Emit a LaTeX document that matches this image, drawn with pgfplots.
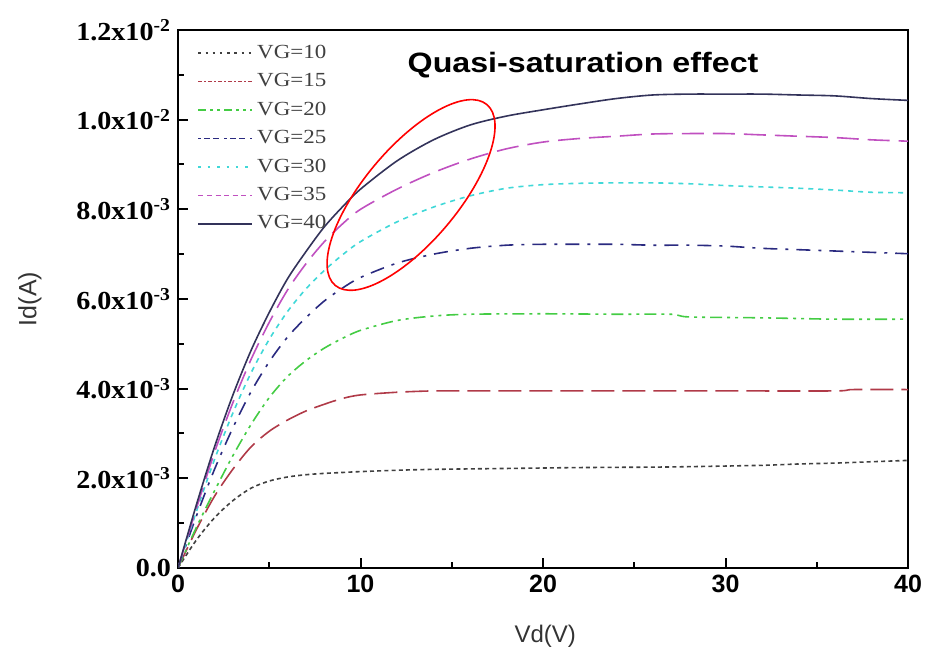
\documentclass[border=0pt]{standalone}
\usepackage{fontspec}
\setmainfont{Liberation Serif}
\setsansfont{Liberation Sans}
\newfontfamily\legf[FakeStretch=1.15]{Liberation Serif}
\newfontfamily\ytf[FakeStretch=1.08]{Liberation Serif}
\newfontfamily\ttlf[FakeStretch=1.15]{Liberation Sans}
\usepackage{pgfplots}
\pgfplotsset{compat=1.18}
\usetikzlibrary{shapes.geometric}
\definecolor{c10}{HTML}{404040}
\definecolor{c15}{HTML}{B03A48}
\definecolor{c20}{HTML}{44CC44}
\definecolor{c25}{HTML}{2A2A80}
\definecolor{c30}{HTML}{40D8D8}
\definecolor{c35}{HTML}{C050C0}
\definecolor{c40}{HTML}{33335A}
\newcommand\yl[2]{{\ytf\bfseries #1x10\textsuperscript{#2}}}
\begin{document}
\begin{tikzpicture}
\begin{axis}[
  scale only axis, width=365pt, height=269pt,
  xmin=0, xmax=40, ymin=0, ymax=0.012,
  xtick={0,10,20,30,40}, minor xtick={5,15,25,35},
  xticklabels={0,10,20,30,40},
  ytick={0,0.002,0.004,0.006,0.008,0.010,0.012},
  minor ytick={0.001,0.003,0.005,0.007,0.009,0.011},
  yticklabels={{\ytf\bfseries 0.0},\yl{2.0}{-3},\yl{4.0}{-3},\yl{6.0}{-3},\yl{8.0}{-3},\yl{1.0}{-2},\yl{1.2}{-2}},
  scaled y ticks=false,
  yticklabel style={font=\fontsize{13}{15}\selectfont},
  xticklabel style={font=\sffamily\bfseries\fontsize{12.5}{14}\selectfont},
  tick align=inside, tick pos=left,
  major tick length=5pt, minor tick length=3pt,
  tick style={black, line width=1pt},
  axis line style={line width=1.3pt},
  xlabel={Vd(V)}, ylabel={Id(A)},
  xlabel style={font=\sffamily\fontsize{12}{14}\selectfont, text=black!80, at={(axis description cs:0.503,-0.126)}, anchor=center},
  ylabel style={font=\sffamily\fontsize{12.5}{14}\selectfont, text=black!80, at={(axis description cs:-0.203,0.5)}, anchor=center},
  legend style={font=\legf\fontsize{10}{12}\selectfont, text=black!75, draw=none, fill=none,
    at={(rel axis cs:0.018,0.988)}, anchor=north west, row sep=2.1pt},
  legend cell align=left,
  legend image code/.code={\draw[#1] (0pt,0pt) -- (27pt,0pt);},
  every axis plot/.append style={line width=0.8pt, smooth},
]
\addplot[c10, dash pattern=on 2pt off 1.6pt, legend image post style={dash pattern=on 1.2pt off 2.4pt}] coordinates {
(0,0) (1,0.62e-3) (2,1.12e-3) (3,1.5e-3) (4,1.78e-3) (5,1.94e-3) (6,2.03e-3) (7,2.08e-3) (8,2.11e-3) (9,2.13e-3) (10,2.15e-3) (12,2.18e-3) (14,2.2e-3) (18,2.22e-3) (22,2.24e-3) (26,2.25e-3) (28,2.26e-3) (32,2.29e-3) (34,2.32e-3) (36,2.34e-3) (38,2.37e-3) (40,2.4e-3)};
\addlegendentry{VG=10}
\addplot[c15, dash pattern=on 11.5pt off 4pt, legend image post style={dash pattern=on 2pt off 1pt on 1pt off 1pt}] coordinates {
(0,0) (1,0.85e-3) (2,1.6e-3) (3,2.2e-3) (4,2.7e-3) (5,3.05e-3) (6,3.3e-3) (7,3.5e-3) (8,3.65e-3) (9,3.78e-3) (10,3.86e-3) (12,3.92e-3) (14,3.95e-3) (16,3.95e-3) (20,3.95e-3) (25,3.95e-3) (30,3.95e-3) (36,3.95e-3) (37,3.98e-3) (40,3.98e-3)};
\addlegendentry{VG=15}
\addplot[c20, dash pattern=on 6pt off 2.5pt on 1.5pt off 2.5pt on 1.5pt off 2.5pt, legend image post style={dash pattern=on 4pt off 2pt on 1.5pt off 2pt on 1.5pt off 2pt}] coordinates {
(0,0) (1,0.9e-3) (2,1.72e-3) (3,2.5e-3) (4,3.2e-3) (5,3.8e-3) (6,4.27e-3) (7,4.62e-3) (8,4.9e-3) (9,5.12e-3) (10,5.3e-3) (12,5.52e-3) (14,5.62e-3) (16,5.66e-3) (20,5.67e-3) (24,5.66e-3) (27,5.66e-3) (28,5.6e-3) (32,5.58e-3) (36,5.55e-3) (40,5.55e-3)};
\addlegendentry{VG=20}
\addplot[c25, dash pattern=on 7pt off 4pt on 1.5pt off 4pt, legend image post style={dash pattern=on 1.5pt off 1.5pt on 3pt off 1.5pt on 3pt off 2.5pt}] coordinates {
(0,0) (1,1.15e-3) (2,2.2e-3) (3,3.12e-3) (4,3.93e-3) (5,4.6e-3) (6,5.15e-3) (7,5.58e-3) (8,5.95e-3) (9,6.24e-3) (10,6.48e-3) (12,6.8e-3) (14,7.0e-3) (16,7.13e-3) (18,7.2e-3) (20,7.22e-3) (22,7.22e-3) (24,7.22e-3) (26,7.2e-3) (28,7.2e-3) (30,7.18e-3) (32,7.13e-3) (34,7.1e-3) (36,7.07e-3) (38,7.04e-3) (40,7.01e-3)};
\addlegendentry{VG=25}
\addplot[c30, dash pattern=on 2.5pt off 2.5pt, legend image post style={dash pattern=on 1.2pt off 3.5pt}] coordinates {
(0,0) (1,1.25e-3) (2,2.42e-3) (3,3.45e-3) (4,4.35e-3) (5,5.1e-3) (6,5.72e-3) (7,6.22e-3) (8,6.63e-3) (9,6.98e-3) (10,7.28e-3) (12,7.72e-3) (14,8.05e-3) (16,8.3e-3) (18,8.47e-3) (20,8.55e-3) (22,8.58e-3) (24,8.59e-3) (26,8.59e-3) (28,8.57e-3) (30,8.53e-3) (32,8.5e-3) (34,8.47e-3) (36,8.43e-3) (38,8.38e-3) (40,8.37e-3)};
\addlegendentry{VG=30}
\addplot[c35, dash pattern=on 11pt off 4.5pt, legend image post style={dash pattern=on 2.5pt off 1.8pt}] coordinates {
(0,0) (1,1.32e-3) (2,2.58e-3) (3,3.68e-3) (4,4.65e-3) (5,5.48e-3) (6,6.2e-3) (7,6.78e-3) (8,7.27e-3) (9,7.67e-3) (10,8.0e-3) (12,8.45e-3) (14,8.82e-3) (16,9.12e-3) (18,9.35e-3) (20,9.5e-3) (22,9.58e-3) (24,9.63e-3) (26,9.68e-3) (28,9.69e-3) (30,9.69e-3) (32,9.66e-3) (34,9.63e-3) (36,9.6e-3) (38,9.55e-3) (40,9.52e-3)};
\addlegendentry{VG=35}
\addplot[c40] coordinates {
(0,0) (1,1.4e-3) (2,2.7e-3) (3,3.85e-3) (4,4.85e-3) (5,5.7e-3) (6,6.45e-3) (7,7.05e-3) (8,7.6e-3) (9,8.05e-3) (10,8.45e-3) (12,9.08e-3) (14,9.55e-3) (16,9.88e-3) (18,10.08e-3) (20,10.22e-3) (22,10.35e-3) (24,10.47e-3) (26,10.55e-3) (28,10.57e-3) (30,10.57e-3) (32,10.57e-3) (34,10.55e-3) (36,10.53e-3) (38,10.47e-3) (40,10.43e-3)};
\addlegendentry{VG=40}
\node[anchor=west, font=\ttlf\bfseries\fontsize{14}{16}\selectfont] at (rel axis cs:0.305,0.935) {Quasi-saturation effect};
\node[draw=red, line width=0.8pt, ellipse, minimum width=118pt, minimum height=47pt, inner sep=0pt, rotate=50] at (axis cs:12.77,0.00832) {};
\coordinate (SW) at (rel axis cs:0,0);
\coordinate (NE) at (rel axis cs:1,1);
\end{axis}
\pgfresetboundingbox
\path[use as bounding box] ([xshift=-89pt,yshift=-44pt]SW) rectangle ([xshift=10pt,yshift=15pt]NE);
\end{tikzpicture}
\end{document}
